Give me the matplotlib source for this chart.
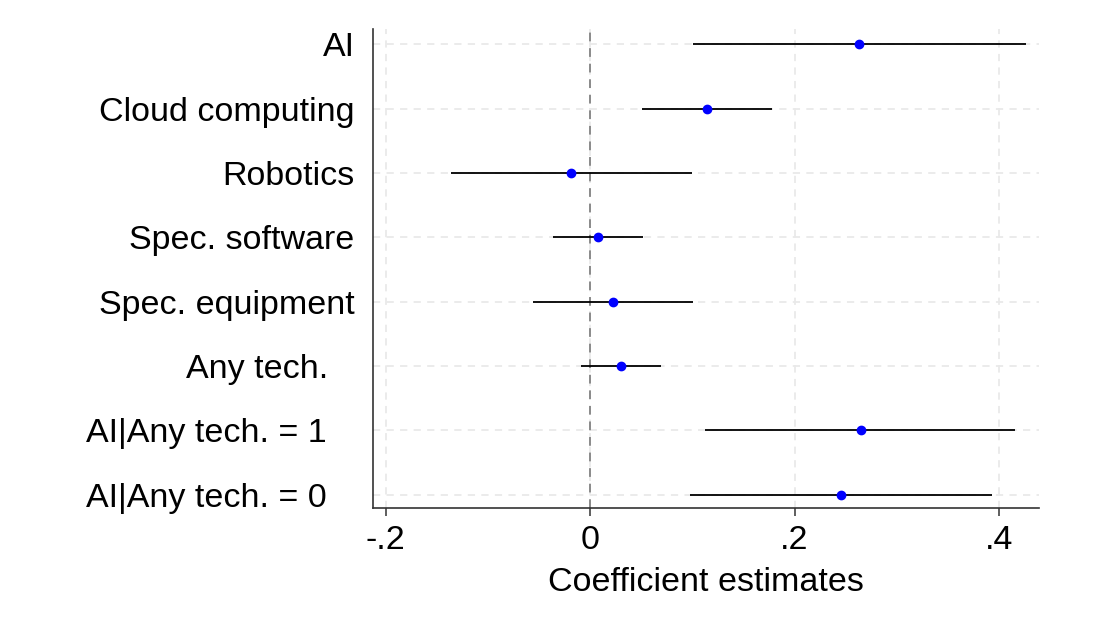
import matplotlib
matplotlib.use("Agg")
import matplotlib.pyplot as plt
from matplotlib.transforms import ScaledTranslation

labels = ["AI", "Cloud computing", "Robotics", "Spec. software", "Spec. equipment",
          "Any tech.", "AI|Any tech. = 1", "AI|Any tech. = 0"]
coef = [0.263, 0.1144, -0.0186, 0.0078, 0.0225, 0.0303, 0.2645, 0.245]
ci_low = [0.1007, 0.0509, -0.136, -0.036, -0.0557, -0.0088, 0.1125, 0.0973]
ci_high = [0.426, 0.178, 0.0998, 0.052, 0.1007, 0.0694, 0.416, 0.393]
xticks = [-0.2, 0.0, 0.2, 0.4]
xticklabels = ["-.2", "0", ".2", ".4"]
label_shift_px = [0, 0, 0, 0, 0, -26, -28, -28]

plt.rcParams['font.family'] = ['Liberation Sans', 'DejaVu Sans']
FS = 24.5

fig = plt.figure(figsize=(11.13, 6.19), dpi=100)
ax = fig.add_axes([0.3347, 0.1793, 0.9335 - 0.3347, 0.9532 - 0.1793])

ypos = list(range(1, len(labels) + 1))

ax.set_xlim(-0.2127, 0.439)
ax.set_ylim(8.21, 0.76)

# grid
for xt in xticks:
    ax.axvline(xt, color='#e9e9e9', lw=1.3, ls=(0, (4, 3.5)), zorder=0)
for y in ypos:
    ax.axhline(y, color='#e9e9e9', lw=1.3, ls=(0, (4, 3.5)), zorder=0)

# zero line
ax.axvline(0, color='#8a8a8a', lw=1.4, ls=(0, (4.5, 3.5)), zorder=1)

ax.hlines(ypos, ci_low, ci_high, color='black', lw=1.3, zorder=2)
ax.plot(coef, ypos, 'o', color='#0000ff', ms=6, zorder=3)

ax.set_yticks(ypos)
ax.set_yticklabels(labels, fontsize=FS)
ax.tick_params(axis='y', length=0, pad=13)
for lab, sh in zip(ax.get_yticklabels(), label_shift_px):
    if sh:
        lab.set_transform(lab.get_transform() + ScaledTranslation(sh / 100, 0, fig.dpi_scale_trans))

ax.set_xticks(xticks)
ax.set_xticklabels(xticklabels, fontsize=FS)
ax.tick_params(axis='x', length=6, width=1.1, color='#333333', pad=6)
ax.set_xlabel("Coefficient estimates", fontsize=FS, labelpad=8)

for s in ['top', 'right']:
    ax.spines[s].set_visible(False)
for s in ['left', 'bottom']:
    ax.spines[s].set_color('#333333')
    ax.spines[s].set_linewidth(1.2)

fig.savefig("out.png", dpi=100)
